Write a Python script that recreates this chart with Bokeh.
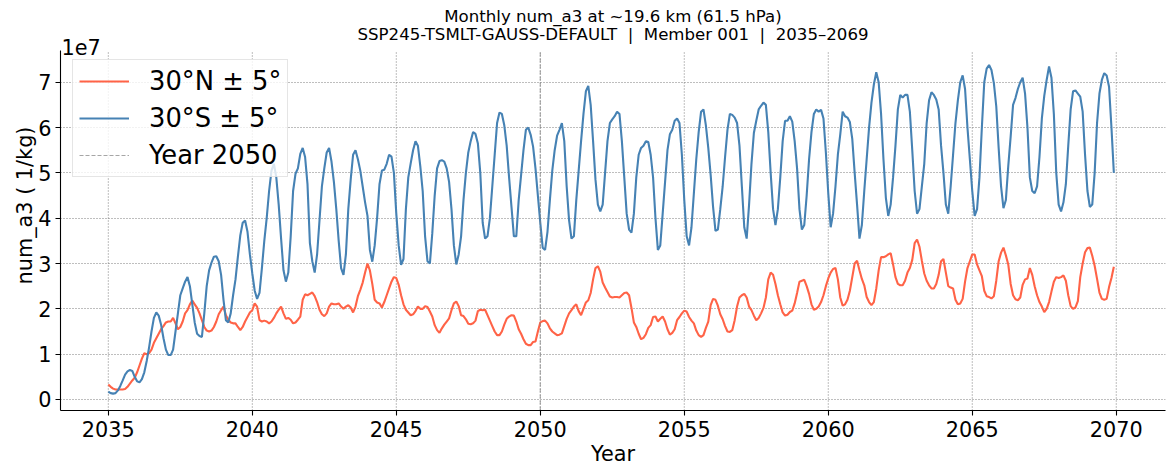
import numpy as np
from bokeh.plotting import figure
from bokeh.models import Range1d, FixedTicker, Label, Legend, LegendItem
from bokeh.embed import file_html
from bokeh.resources import INLINE

# ---------------- data (values in units of 1e7 1/kg) ----------------
START_YEAR = 2035
OFFSET_TEXT = "1e7"
TITLE_1 = "Monthly num_a3 at ~19.6 km (61.5 hPa)"
TITLE_2 = "SSP245-TSMLT-GAUSS-DEFAULT\u00a0\u00a0|\u00a0\u00a0Member 001\u00a0\u00a0|\u00a0\u00a02035\u20132069"
SERIES_N = "30°N ± 5°"
SERIES_S = "30°S ± 5°"
YEAR_MARK = 2050
YEAR_MARK_LABEL = "Year 2050"
X_TICKS = [2035, 2040, 2045, 2050, 2055, 2060, 2065, 2070]
Y_TICKS = [0, 1, 2, 3, 4, 5, 6, 7]

nh_30 = [
    0.33, 0.28, 0.24, 0.22, 0.22, 0.22, 0.22, 0.23, 0.28, 0.35, 0.42, 0.48,
    0.60, 0.75, 0.90, 1.02, 1.00, 1.02, 1.10, 1.25, 1.35, 1.45, 1.55, 1.62,
    1.70, 1.72, 1.72, 1.80, 1.68, 1.55, 1.60, 1.72, 1.90, 1.97, 2.10, 2.18,
    2.10, 2.02, 1.90, 1.75, 1.60, 1.52, 1.50, 1.52, 1.60, 1.72, 1.88, 1.97,
    2.05, 1.86, 1.76, 1.70, 1.68, 1.68, 1.60, 1.53, 1.60, 1.72, 1.82, 1.92,
    1.97, 2.12, 2.05, 1.75, 1.72, 1.74, 1.72, 1.68, 1.72, 1.80, 1.90, 1.98,
    2.05, 1.90, 1.78, 1.80, 1.76, 1.68, 1.70, 1.76, 1.83, 2.20, 2.32, 2.30,
    2.33, 2.36, 2.28, 2.15, 1.98, 1.88, 1.84, 1.90, 2.05, 2.12, 2.10, 2.10,
    2.12, 2.05, 2.00, 2.05, 2.08, 2.03, 1.92, 2.05, 2.28, 2.42, 2.58, 2.80,
    3.00, 2.85, 2.55, 2.20, 2.14, 2.12, 2.03, 2.15, 2.30, 2.45, 2.60, 2.70,
    2.68, 2.53, 2.30, 2.10, 1.98, 1.92, 1.86, 1.88, 1.95, 2.05, 2.00, 2.00,
    2.06, 2.04, 1.94, 1.83, 1.64, 1.53, 1.47, 1.57, 1.65, 1.72, 1.79, 1.97,
    2.12, 2.16, 2.06, 1.86, 1.84, 1.77, 1.67, 1.66, 1.68, 1.74, 1.95, 1.98,
    1.97, 1.98, 1.86, 1.74, 1.62, 1.50, 1.42, 1.42, 1.50, 1.65, 1.78, 1.83,
    1.86, 1.85, 1.72, 1.55, 1.45, 1.33, 1.23, 1.20, 1.20, 1.27, 1.28, 1.50,
    1.70, 1.73, 1.74, 1.68, 1.57, 1.50, 1.46, 1.42, 1.43, 1.46, 1.62, 1.78,
    1.90, 1.97, 2.05, 2.10, 1.95, 1.86, 2.00, 2.14, 2.19, 2.35, 2.65, 2.90,
    2.94, 2.82, 2.58, 2.47, 2.37, 2.27, 2.25, 2.26, 2.26, 2.25, 2.30, 2.35,
    2.36, 2.30, 2.02, 1.70, 1.60, 1.45, 1.33, 1.36, 1.44, 1.58, 1.64, 1.82,
    1.83, 1.72, 1.78, 1.83, 1.72, 1.55, 1.43, 1.47, 1.55, 1.75, 1.82, 1.90,
    1.96, 1.94, 1.82, 1.74, 1.68, 1.52, 1.42, 1.38, 1.42, 1.58, 1.72, 2.08,
    2.22, 2.20, 2.07, 1.88, 1.77, 1.62, 1.50, 1.49, 1.53, 1.75, 2.05, 2.25,
    2.30, 2.33, 2.25, 2.05, 1.97, 1.85, 1.75, 1.80, 1.90, 2.02, 2.25, 2.65,
    2.80, 2.75, 2.55, 2.30, 2.10, 1.92, 1.85, 1.87, 1.93, 1.96, 2.12, 2.35,
    2.60, 2.62, 2.64, 2.50, 2.33, 2.10, 1.98, 2.00, 2.05, 2.15, 2.30, 2.50,
    2.67, 2.80, 2.88, 2.90, 2.65, 2.25, 2.07, 2.10, 2.20, 2.40, 2.70, 3.00,
    3.06, 2.85, 2.66, 2.52, 2.26, 2.15, 2.08, 2.15, 2.45, 2.85, 3.14, 3.14,
    3.16, 3.20, 3.23, 2.98, 2.70, 2.55, 2.52, 2.52, 2.62, 2.80, 2.90, 3.08,
    3.45, 3.53, 3.37, 3.06, 2.78, 2.62, 2.52, 2.45, 2.45, 2.55, 2.75, 3.05,
    3.10, 2.80, 2.50, 2.47, 2.45, 2.20, 2.10, 2.12, 2.22, 2.60, 2.90, 3.05,
    3.20, 3.20, 2.98, 2.85, 2.72, 2.40, 2.28, 2.26, 2.23, 2.28, 2.62, 3.05,
    3.24, 3.35, 3.18, 2.98, 2.55, 2.30, 2.21, 2.19, 2.25, 2.53, 2.65, 2.67,
    2.90, 2.75, 2.50, 2.30, 2.15, 2.05, 1.93, 2.00, 2.15, 2.38, 2.60, 2.70,
    2.68, 2.70, 2.74, 2.62, 2.30, 2.06, 2.00, 2.03, 2.17, 2.70, 3.00, 3.25,
    3.34, 3.35, 3.17, 2.95, 2.66, 2.36, 2.22, 2.20, 2.22, 2.48, 2.68, 2.93,
]

sh_30 = [
    0.17, 0.14, 0.13, 0.14, 0.20, 0.30, 0.42, 0.55, 0.62, 0.65, 0.63, 0.50,
    0.40, 0.38, 0.45, 0.60, 0.85, 1.15, 1.50, 1.80, 1.92, 1.85, 1.65, 1.35,
    1.10, 0.98, 0.98, 1.10, 1.50, 1.90, 2.30, 2.45, 2.60, 2.70, 2.50, 2.10,
    1.70, 1.45, 1.40, 1.38, 1.90, 2.50, 2.85, 3.02, 3.15, 3.16, 3.05, 2.75,
    2.20, 1.75, 1.70, 1.90, 2.30, 2.65, 3.15, 3.62, 3.90, 3.95, 3.70, 3.20,
    2.78, 2.40, 2.22, 2.35, 2.90, 3.50, 4.00, 4.60, 5.05, 5.20, 4.90, 4.30,
    3.55, 2.85, 2.60, 2.80, 3.60, 4.60, 4.98, 5.10, 5.42, 5.55, 5.35, 4.75,
    3.45, 3.05, 2.80, 3.20, 3.95, 4.70, 5.10, 5.45, 5.55, 5.25, 4.80, 4.20,
    3.50, 2.90, 2.75, 3.20, 4.20, 4.85, 5.40, 5.50, 5.30, 5.05, 4.70, 4.35,
    4.05, 3.30, 3.04, 3.40, 4.00, 4.75, 5.05, 5.07, 5.20, 5.40, 5.36, 5.00,
    4.10, 3.40, 2.97, 3.10, 4.20, 4.90, 5.21, 5.50, 5.70, 5.60, 5.15, 4.60,
    3.60, 3.05, 3.00, 3.67, 4.50, 5.10, 5.26, 5.28, 5.25, 5.10, 4.80, 4.20,
    3.40, 2.98, 3.20, 3.60, 4.40, 5.00, 5.45, 5.70, 5.90, 5.86, 5.65, 5.00,
    3.90, 3.55, 3.60, 4.00, 4.70, 5.40, 6.10, 6.33, 6.30, 6.05, 5.60, 4.90,
    4.25, 3.60, 3.60, 4.40, 4.95, 5.50, 5.95, 6.00, 5.84, 5.58, 5.10, 4.50,
    3.90, 3.35, 3.30, 3.70, 4.40, 5.05, 5.50, 5.82, 5.95, 6.10, 5.70, 4.70,
    3.95, 3.55, 3.60, 4.40, 5.05, 5.70, 6.30, 6.80, 6.92, 6.50, 5.70, 4.85,
    4.30, 4.15, 4.30, 5.00, 5.70, 6.10, 6.18, 6.25, 6.35, 6.30, 5.70, 4.90,
    4.10, 3.75, 3.68, 4.10, 4.90, 5.40, 5.55, 5.60, 5.70, 5.68, 5.40, 4.90,
    4.00, 3.30, 3.40, 4.10, 4.80, 5.50, 5.85, 5.95, 6.15, 6.20, 6.10, 5.40,
    4.40, 3.60, 3.40, 3.80, 4.55, 5.30, 5.90, 6.35, 6.40, 6.05, 5.55, 4.95,
    4.25, 3.72, 3.75, 4.20, 4.70, 5.35, 5.95, 6.30, 6.28, 6.22, 6.10, 5.60,
    4.70, 3.80, 3.55, 4.30, 5.20, 5.88, 6.15, 6.40, 6.48, 6.55, 6.50, 5.90,
    5.00, 4.20, 3.85, 4.20, 4.90, 5.70, 6.15, 6.15, 6.25, 6.13, 5.70, 5.10,
    4.20, 3.75, 3.85, 4.50, 5.30, 5.90, 6.30, 6.40, 6.35, 6.39, 6.20, 5.45,
    4.55, 3.80, 4.10, 4.70, 5.40, 5.85, 6.35, 6.25, 6.22, 6.12, 5.75, 5.00,
    4.30, 3.55, 3.85, 4.60, 5.30, 6.00, 6.55, 6.95, 7.22, 7.00, 6.30, 5.30,
    4.45, 4.05, 4.30, 4.90, 5.60, 6.40, 6.72, 6.66, 6.72, 6.72, 6.35, 5.50,
    4.60, 4.10, 4.20, 4.70, 5.20, 6.10, 6.60, 6.78, 6.72, 6.62, 6.40, 5.60,
    5.00, 4.30, 4.10, 4.70, 5.40, 6.10, 6.60, 7.00, 7.15, 6.85, 6.00, 5.30,
    4.60, 4.05, 4.20, 4.90, 6.00, 7.00, 7.30, 7.38, 7.27, 6.98, 6.47, 5.55,
    4.70, 4.22, 4.40, 5.15, 5.80, 6.50, 6.65, 6.85, 7.00, 7.10, 6.75, 6.00,
    4.90, 4.60, 4.55, 4.70, 5.35, 6.20, 6.70, 7.05, 7.35, 7.10, 6.30, 5.00,
    4.30, 4.15, 4.35, 4.75, 5.60, 6.40, 6.80, 6.82, 6.75, 6.68, 6.35, 5.40,
    4.60, 4.25, 4.30, 5.00, 6.10, 6.75, 7.05, 7.20, 7.15, 6.90, 6.00, 5.00,
]

months = START_YEAR + np.arange(len(sh_30)) / 12.0

# ---------------- layout constants ----------------
FONT = "DejaVu Sans"
W, H = 1175, 475
LEFT, RIGHT, BOTTOM = 60, 10, 65
AX_TOP_PX = 50                  # top of the axes box (canvas px)
X_LO, X_HI = 2033.34, 2071.71
Y_LO, Y_AX_TOP = -0.243, 7.70
FW = W - LEFT - RIGHT
FH = H - BOTTOM                 # frame reaches the top of the canvas
AX_H = FH - AX_TOP_PX
PX_PER_UNIT = AX_H / (Y_AX_TOP - Y_LO)
Y_HI = Y_LO + FH / PX_PER_UNIT

p = figure(
    width=W, height=H, output_backend="svg", toolbar_location=None,
    x_range=Range1d(X_LO, X_HI), y_range=Range1d(Y_LO, Y_HI),
    min_border_left=LEFT, min_border_right=RIGHT, min_border_top=0,
    min_border_bottom=BOTTOM, title=None,
)
p.outline_line_color = None
p.background_fill_color = "white"
p.border_fill_color = "white"

for ax in (p.xaxis[0], p.yaxis[0]):
    ax.major_label_text_font = FONT
    ax.major_label_text_font_size = "20.8px"
    ax.major_label_text_color = "black"
    ax.axis_label_text_font = FONT
    ax.axis_label_text_font_size = "20.8px"
    ax.axis_label_text_font_style = "normal"
    ax.axis_label_text_color = "black"
    ax.axis_line_color = "black"
    ax.axis_line_width = 1.1
    ax.major_tick_line_color = "black"
    ax.major_tick_line_width = 1.1
    ax.major_tick_out = 5
    ax.major_tick_in = 0
    ax.minor_tick_out = 0
    ax.minor_tick_in = 0
    ax.major_label_standoff = 5

p.xaxis[0].axis_label_standoff = 2
p.yaxis[0].axis_label_standoff = -2
p.yaxis[0].major_label_standoff = 4
p.yaxis[0].bounds = (Y_LO, Y_AX_TOP)

p.xaxis[0].ticker = FixedTicker(ticks=X_TICKS)
p.yaxis[0].ticker = FixedTicker(ticks=Y_TICKS)
p.xaxis[0].axis_label = "Year"
p.yaxis[0].axis_label = "num_a3 ( 1/kg)"

GRID = dict(line_color="#707070", line_alpha=0.9, line_width=1.0, line_dash="1 2")
p.ygrid[0].grid_line_color = GRID["line_color"]
p.ygrid[0].grid_line_alpha = GRID["line_alpha"]
p.ygrid[0].grid_line_width = GRID["line_width"]
p.ygrid[0].grid_line_dash = GRID["line_dash"]
p.xgrid[0].visible = False
# vertical grid lines, limited to the axes box
p.segment(x0=X_TICKS, y0=[Y_LO] * len(X_TICKS), x1=X_TICKS, y1=[Y_AX_TOP] * len(X_TICKS), **GRID)

r_n = p.line(months, nh_30, line_color="#FF6347", line_width=2.1)
r_s = p.line(months, sh_30, line_color="#4682B4", line_width=2.1)
r_v = p.line(x=[YEAR_MARK, YEAR_MARK], y=[Y_LO, Y_AX_TOP], line_color="gray",
             line_dash="4 2", line_width=1.1, line_alpha=0.7)

legend = Legend(
    items=[LegendItem(label=SERIES_N, renderers=[r_n]),
           LegendItem(label=SERIES_S, renderers=[r_s]),
           LegendItem(label=YEAR_MARK_LABEL, renderers=[r_v])],
    location=(12, FH - 177), margin=0, padding=6, spacing=7,
    glyph_width=50, glyph_height=20, label_standoff=20,
    label_text_font=FONT, label_text_font_size="25.8px", label_text_color="black",
    background_fill_color="white", background_fill_alpha=0.8,
    border_line_color="#cccccc", border_line_width=1,
)
p.add_layout(legend)

p.add_layout(Label(x=1, y=FH - 46, x_units="screen", y_units="screen", text=OFFSET_TEXT,
                   text_font=FONT, text_font_size="20.8px", text_align="left",
                   text_baseline="alphabetic", text_color="black"))
p.add_layout(Label(x=FW / 2, y=FH - 16, x_units="screen", y_units="screen", text=TITLE_1,
                   text_font=FONT, text_font_size="16.6px", text_align="center",
                   text_baseline="middle", text_color="black"))
p.add_layout(Label(x=FW / 2, y=FH - 34, x_units="screen", y_units="screen", text=TITLE_2,
                   text_font=FONT, text_font_size="16.6px", text_align="center",
                   text_baseline="middle", text_color="black"))

open("out.html", "w").write(file_html(p, INLINE))
